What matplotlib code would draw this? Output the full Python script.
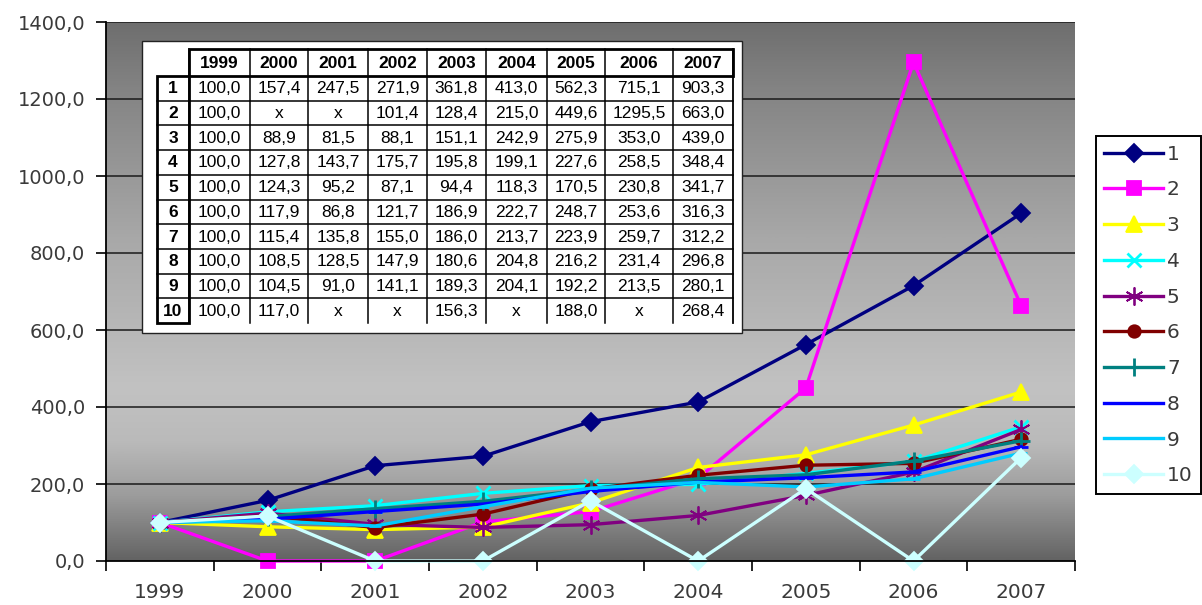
import matplotlib
matplotlib.use('Agg')
import matplotlib.pyplot as plt
import numpy as np
from matplotlib.colors import LinearSegmentedColormap
from matplotlib.patches import Rectangle

# ---------------- data ----------------
years = ['1999', '2000', '2001', '2002', '2003', '2004', '2005', '2006', '2007']
series_names = ['1', '2', '3', '4', '5', '6', '7', '8', '9', '10']
s1 = [100.0, 157.4, 247.5, 271.9, 361.8, 413.0, 562.3, 715.1, 903.3]
s2 = [100.0, None, None, 101.4, 128.4, 215.0, 449.6, 1295.5, 663.0]
s3 = [100.0, 88.9, 81.5, 88.1, 151.1, 242.9, 275.9, 353.0, 439.0]
s4 = [100.0, 127.8, 143.7, 175.7, 195.8, 199.1, 227.6, 258.5, 348.4]
s5 = [100.0, 124.3, 95.2, 87.1, 94.4, 118.3, 170.5, 230.8, 341.7]
s6 = [100.0, 117.9, 86.8, 121.7, 186.9, 222.7, 248.7, 253.6, 316.3]
s7 = [100.0, 115.4, 135.8, 155.0, 186.0, 213.7, 223.9, 259.7, 312.2]
s8 = [100.0, 108.5, 128.5, 147.9, 180.6, 204.8, 216.2, 231.4, 296.8]
s9 = [100.0, 104.5, 91.0, 141.1, 189.3, 204.1, 192.2, 213.5, 280.1]
s10 = [100.0, 117.0, None, None, 156.3, None, 188.0, None, 268.4]
series = [s1, s2, s3, s4, s5, s6, s7, s8, s9, s10]
y_ticks = [0, 200, 400, 600, 800, 1000, 1200, 1400]

# ---------------- styles ----------------
colors = ['#000080', '#FF00FF', '#FFFF00', '#00FFFF', '#800080',
          '#800000', '#008080', '#0000FF', '#00CCFF', '#CCFFFF']
markers = ['D', 's', '^', 'x', (6, 2, 0), 'o', '+', '_', '_', 'D']
msizes = [9, 10, 11, 10, 13, 9, 13, 10, 8, 9]

W, H = 1202, 605
fig = plt.figure(figsize=(W / 100, H / 100), dpi=100)
fig.patch.set_facecolor('white')
L, R, T, B = 106, 1075, 22, 561
ax = fig.add_axes([L / W, 1 - B / H, (R - L) / W, (B - T) / H])

grad = np.linspace(0, 1, 512).reshape(-1, 1)
cmap = LinearSegmentedColormap.from_list('bg', [
    (0.0, '#6e6e6e'), (0.12, '#838383'), (0.4, '#a8a8a8'),
    (0.68, '#c2c2c2'), (0.78, '#bababa'), (0.88, '#9c9c9c'), (1.0, '#636363')])
ax.imshow(grad, extent=[0, 1, 0, 1], transform=ax.transAxes, aspect='auto',
          cmap=cmap, zorder=0, origin='upper', interpolation='bilinear')

ax.set_xlim(-0.5, 8.5)
ax.set_ylim(0, 1400)
for yv in y_ticks[1:]:
    ax.axhline(yv, color='#1a1a1a', lw=1.1, zorder=1)

x = np.arange(len(years))
handles = []
for i, s in enumerate(series):
    vals = [0.0 if v is None else v for v in s]
    mew = 2.0 if markers[i] in ('x', '+', '_') else 1.3
    ln, = ax.plot(x, vals, color=colors[i], lw=2.4, marker=markers[i],
                  markersize=msizes[i], markeredgecolor=colors[i],
                  markerfacecolor=colors[i], markeredgewidth=mew,
                  zorder=3 + i, label=series_names[i], clip_on=False)
    handles.append(ln)

ax.set_yticks(y_ticks)
ax.set_yticklabels([f'{v:.1f}'.replace('.', ',') for v in y_ticks])
ax.tick_params(axis='y', direction='out', length=7, width=1.2, pad=8,
               labelsize=14, labelcolor='#3a3a3a', color='black')
ax.set_xticks(np.arange(-0.5, 9, 1.0))
ax.set_xticklabels([])
ax.set_xticks(x, minor=True)
ax.set_xticklabels(years, minor=True)
ax.tick_params(axis='x', which='major', direction='out', length=7, width=1.2, color='black')
ax.tick_params(axis='x', which='minor', length=0, pad=16, labelsize=14.5, labelcolor='#3a3a3a')
for sp in ['top', 'right']:
    ax.spines[sp].set_visible(False)
for sp in ['left', 'bottom']:
    ax.spines[sp].set_color('black')
    ax.spines[sp].set_linewidth(1.3)
    ax.spines[sp].set_zorder(20)

leg = ax.legend(handles=handles, loc='center left',
                bbox_to_anchor=(1096 / W, 1 - 315 / H), bbox_transform=fig.transFigure,
                frameon=True, fancybox=False, edgecolor='black', facecolor='white',
                fontsize=14.5, labelspacing=0.83, handlelength=2.9, handletextpad=0.2,
                borderpad=0.42, borderaxespad=0, framealpha=1)
leg.get_frame().set_linewidth(1.4)
for t in leg.get_texts():
    t.set_color('#3a3a3a')

# ---------------- table overlay ----------------
tax = fig.add_axes([0, 0, 1, 1], zorder=10)
tax.set_xlim(0, W)
tax.set_ylim(H, 0)
tax.axis('off')
tax.add_patch(Rectangle((142, 41), 600, 292, fc='white', ec='#222222', lw=1.0))

col_x = [157, 189, 250, 308, 368, 427, 486, 547, 605, 673, 733]
hdr_top, hdr_bot = 49, 76
row_h = 24.7
n_rows = len(series)
data_bot = hdr_bot + n_rows * row_h

def fmt(v):
    return 'x' if v is None else f'{v:.1f}'.replace('.', ',')

tfont = dict(family='Liberation Sans', fontsize=12.5, color='black')
# header
tax.add_patch(Rectangle((col_x[1], hdr_top), col_x[-1] - col_x[1], hdr_bot - hdr_top,
                        fill=False, ec='black', lw=2.0))
for j in range(1, len(col_x) - 1):
    xv = col_x[j]
    tax.plot([xv, xv], [hdr_top, data_bot], color='black', lw=1.1)
tax.plot([col_x[-1], col_x[-1]], [hdr_top, data_bot], color='black', lw=1.3)
for j, yr in enumerate(years):
    cx = (col_x[j + 1] + col_x[j + 2]) / 2
    tax.text(cx, (hdr_top + hdr_bot) / 2 + 0.5, yr, ha='center', va='center',
             fontweight='bold', **tfont)
# rows
for i in range(1, n_rows):
    yv = hdr_bot + i * row_h
    tax.plot([col_x[0], col_x[-1]], [yv, yv], color='black', lw=1.1)
tax.add_patch(Rectangle((col_x[0], hdr_bot), col_x[1] - col_x[0], data_bot - hdr_bot,
                        fill=False, ec='black', lw=2.0))
for i, s in enumerate(series):
    cy = hdr_bot + (i + 0.5) * row_h + 0.5
    tax.text((col_x[0] + col_x[1]) / 2, cy, series_names[i], ha='center', va='center',
             fontweight='bold', **tfont)
    for j, v in enumerate(s):
        cx = (col_x[j + 1] + col_x[j + 2]) / 2
        tax.text(cx, cy, fmt(v), ha='center', va='center', **tfont)

fig.savefig('out.png', dpi=100, facecolor='white')
